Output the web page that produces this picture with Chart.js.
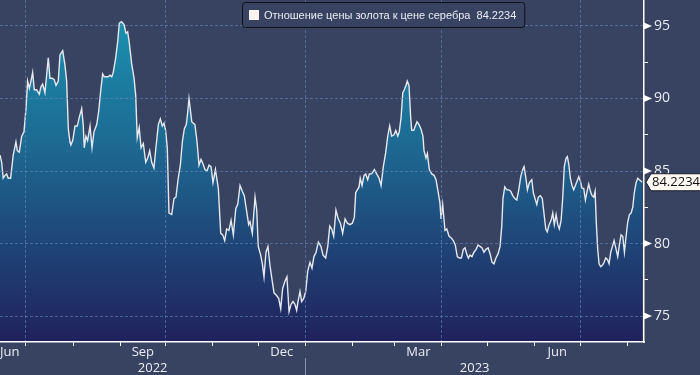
<!DOCTYPE html>
<html>
<head>
<meta charset="utf-8">
<script src="https://cdn.jsdelivr.net/npm/chart.js@4.4.0/dist/chart.umd.min.js"></script>
<style>
  html, body { margin: 0; padding: 0; background: #374361; }
  #wrap { width: 700px; height: 375px; }
</style>
</head>
<body>
<div id="wrap"><canvas id="ratioChart" width="700" height="375"></canvas></div>
<script>
const seriesName = "Отношение цены золота к цене серебра";

// days since 1 Jul 2022
const dayOffsets = [
  -17.1,-16.0,-15.0,-13.8,-12.7,-11.7,-10.1,-8.4,-6.6,-5.7,
  -4.4,-2.8,-1.3,0,1.1,2.2,3.3,4.4,5.5,7.0,
  8.8,9.9,11.0,12.5,13.6,14.7,15.8,17.3,18.6,19.8,
  21.3,22.4,24.2,25.7,26.8,27.9,29.0,29.6,30.8,32.3,
  33.8,35.1,36.7,37.7,38.4,39.5,40.6,42.2,43.5,44.8,
  46.6,47.9,49.2,50.5,51.6,54.2,55.3,56.5,57.5,59.1,
  60.4,61.5,63.0,64.6,65.9,67.0,68.1,69.6,71.2,72.3,
  73.3,74.6,75.8,77.3,78.9,80.2,81.5,82.8,84.3,85.6,
  87.2,88.5,89.8,90.9,92.0,93.1,94.2,96.0,97.5,98.8,
  100.3,101.7,103.0,104.3,105.6,106.5,107.4,108.2,109.2,110.2,
  111.3,112.7,114.0,115.3,116.6,117.9,119.2,120.6,121.9,123.2,
  124.8,126.7,128.3,129.6,130.9,132.2,133.7,135.1,136.6,138.2,
  139.5,141.0,142.5,143.8,145.4,146.7,147.6,149.1,150.9,152.0,
  153.0,154.6,155.7,156.8,158.1,159.4,160.7,162.1,163.4,165.2,
  166.5,167.8,169.1,170.6,171.9,173.3,174.6,175.9,177.2,178.3,
  179.4,180.5,181.6,182.9,184.3,185.6,187.1,188.4,189.7,191.1,
  192.6,194.3,195.7,197.4,198.8,200.1,201.4,202.7,204.2,205.7,
  207.1,208.6,210.2,211.7,213.3,215.0,216.3,217.2,218.3,219.4,
  220.2,221.4,222.7,223.8,225.1,226.2,227.7,229.5,231.0,232.6,
  233.9,235.4,237.0,238.3,239.6,240.9,242.4,243.6,244.9,245.9,
  247.1,248.2,249.2,250.3,251.2,252.3,253.4,254.1,255.4,256.5,
  257.6,258.9,260.2,261.5,262.2,263.5,264.4,265.7,267.3,268.8,
  270.1,271.6,272.7,273.4,274.5,276.0,277.2,278.7,280.0,281.5,
  282.8,284.1,285.5,286.8,288.1,289.2,290.3,291.4,292.5,293.8,
  295.1,296.5,297.8,299.1,300.4,301.7,303.0,304.4,305.7,307.0,
  308.3,309.6,311.0,312.3,313.4,314.2,315.4,316.7,318.0,319.3,
  320.6,322.0,323.3,324.6,325.9,327.2,328.1,329.2,330.3,331.6,
  333.2,334.2,335.3,336.5,337.5,338.8,340.1,341.3,342.4,343.4,
  344.6,345.9,347.0,348.0,349.2,350.3,351.3,352.5,353.6,354.6,
  355.8,356.6,357.5,358.6,359.7,360.8,361.9,363.0,364.1,365.2,
  366.3,367.4,368.5,369.6,370.7,371.8,372.9,374.0,374.9,375.7,
  376.6,377.5,378.6,379.7,380.8,381.9,383.0,384.1,385.2,386.3,
  387.4,388.5,389.8,390.9,392.0,393.1,394.2,395.3,396.4,397.5,
  398.6,399.7,400.7,401.9,403.0,404.0,405.2,405.8
];

const ratio = [
  86.1,85.6,84.5,84.7,84.8,84.5,84.5,86.1,87.0,86.4,
  86.3,87.4,87.7,89.3,91.2,90.7,91.2,91.8,90.6,90.6,
  90.3,90.8,91.0,90.4,91.6,92.8,91.4,91.4,91.3,90.9,
  91.2,93.0,93.3,92.3,91.2,87.9,87.0,86.8,87.1,88.1,
  88.1,88.7,89.3,88.2,86.6,87.4,87.1,88.1,86.6,87.7,
  88.2,89.1,90.5,91.7,91.5,91.5,91.6,91.5,91.8,92.8,
  93.9,95.2,95.3,95.1,94.5,94.6,93.8,92.4,91.4,90.2,
  87.3,88.0,86.6,86.9,85.6,85.9,86.4,85.6,85.2,86.6,
  88.2,88.6,88.1,88.3,87.8,86.6,82.1,82.0,83.1,83.2,
  84.5,85.4,87.0,87.9,88.2,89.0,90.0,89.3,88.4,88.3,
  88.2,87.0,85.4,85.8,85.5,85.1,85.0,85.4,85.3,84.2,
  85.1,83.8,80.7,80.6,80.2,81.0,80.9,81.6,80.6,82.4,
  82.7,84.0,83.6,83.3,82.2,81.3,81.5,80.7,83.2,82.3,
  79.8,79.2,78.6,77.7,79.4,79.8,78.5,77.5,76.6,76.4,
  76.2,75.5,76.9,77.4,77.7,75.3,75.8,76.0,75.8,75.4,
  76.1,76.7,76.0,76.2,76.7,78.1,78.7,78.3,79.1,79.4,
  80.1,79.8,79.2,79.0,79.8,81.2,81.0,80.5,82.3,81.7,
  81.4,80.7,81.7,81.4,81.3,81.4,81.8,83.5,83.7,83.9,
  84.5,84.0,84.7,84.8,84.4,84.8,84.8,85.1,84.8,84.5,
  84.0,85.3,86.3,87.4,88.1,87.4,87.5,87.8,87.4,87.7,
  88.7,90.4,90.6,90.9,91.2,90.9,88.7,87.8,87.8,88.1,
  88.4,88.2,87.9,87.4,86.4,85.9,86.2,85.1,84.8,84.7,
  84.4,83.5,82.8,81.7,82.7,80.9,81.0,80.5,80.4,80.2,
  79.9,79.1,79.0,79.0,79.6,79.7,79.3,79.0,79.2,79.1,
  79.4,79.6,79.9,79.8,79.7,79.4,79.6,79.7,79.3,78.7,
  78.6,79.0,79.3,79.8,81.2,83.1,83.9,83.7,83.7,83.6,
  83.3,83.1,83.0,83.7,84.6,85.1,85.3,84.6,83.7,84.2,
  84.4,83.5,83.1,82.7,83.2,83.3,83.1,82.0,81.0,80.8,
  81.3,81.6,82.1,81.3,82.0,81.3,81.0,81.6,83.2,85.3,
  85.9,86.0,85.5,84.5,84.0,83.7,84.0,84.3,84.6,84.3,
  83.8,83.8,83.0,83.6,84.1,83.6,83.3,83.2,83.6,81.4,
  79.6,78.6,78.4,78.5,78.7,79.0,78.9,78.6,79.4,79.8,
  80.2,79.7,79.1,79.9,80.6,80.5,79.4,80.5,81.5,82.0,
  82.1,82.5,83.5,84.2,84.5,84.4,84.3,84.2234
];

const yTicks = [75, 77.5, 80, 82.5, 85, 87.5, 90, 92.5, 95];
const yLabels = ["75", "", "80", "", "85", "", "90", "", "95"];

// month starts (days since 1 Jul 2022), Jun 2022 .. Aug 2023
const monthStarts = [-30, 0, 31, 62, 92, 123, 153, 184, 215, 243, 274, 304, 335, 365, 396];
const gridMonths = [0, 92, 184, 274, 365];
const monthLabels = ["Jun", "Sep", "Dec", "Mar", "Jun"];
const monthLabelFrom = [-30, 62, 153, 243, 335];
const monthLabelTo = [0, 92, 184, 274, 365];
const yearLabels = ["2022", "2023"];
const yearBreak = 184;

const bgColor = "#374361";
const textColor = "#e9ecf3";
const gridColor = "rgba(105, 135, 185, 0.6)";
const fontName = '"Open Sans", "DejaVu Sans", sans-serif';
const legendFont = '"Liberation Sans", Arial, sans-serif';

const decorPlugin = {
    id: "decor",
    beforeDraw(chart) {
        const c = chart.ctx;
        c.save();
        c.fillStyle = bgColor;
        c.fillRect(0, 0, chart.width, chart.height);
        c.restore();
    },
    afterDraw(chart) {
        const c = chart.ctx;
        const xs = chart.scales.x;
        const ys = chart.scales.y;
        const area = chart.chartArea;
        c.save();

        // arrow heads on major y ticks
        c.fillStyle = "#ffffff";
        yTicks.forEach((v, i) => {
            if (!yLabels[i]) return;
            const py = ys.getPixelForValue(v);
            c.beginPath();
            c.moveTo(area.right, py - 3.5);
            c.lineTo(area.right + 8, py);
            c.lineTo(area.right, py + 3.5);
            c.closePath();
            c.fill();
        });

        // month labels, centred in their month
        c.font = "13px " + fontName;
        c.fillStyle = textColor;
        c.textAlign = "center";
        c.textBaseline = "middle";
        monthLabels.forEach((m, i) => {
            let cx = (xs.getPixelForValue(monthLabelFrom[i]) + xs.getPixelForValue(monthLabelTo[i])) / 2;
            const w = c.measureText(m).width;
            cx = Math.max(cx, area.left + w / 2);
            c.fillText(m, cx, area.bottom + 10);
        });

        // years
        const sep = xs.getPixelForValue(yearBreak);
        const yearCenters = [(area.left + sep) / 2, (sep + area.right) / 2];
        yearLabels.forEach((t, i) => c.fillText(t, yearCenters[i], area.bottom + 26));
        c.strokeStyle = "#8a95ad";
        c.lineWidth = 1;
        c.beginPath();
        c.moveTo(Math.round(sep) + 0.5, area.bottom + 16);
        c.lineTo(Math.round(sep) + 0.5, chart.height);
        c.stroke();

        // last value tag
        const last = ratio[ratio.length - 1];
        const py = ys.getPixelForValue(last);
        c.beginPath();
        c.moveTo(area.right + 2, py);
        c.lineTo(area.right + 7, py - 8.5);
        c.lineTo(chart.width + 2, py - 8.5);
        c.lineTo(chart.width + 2, py + 8.5);
        c.lineTo(area.right + 7, py + 8.5);
        c.closePath();
        c.fillStyle = "#fffbf4";
        c.fill();
        c.strokeStyle = "#1a1c24";
        c.stroke();
        c.fillStyle = "#111111";
        c.font = "13px " + fontName;
        c.textAlign = "left";
        c.fillText(last.toFixed(4), area.right + 8, py + 0.5);

        // legend box
        c.font = "11px " + legendFont;
        const legendText = seriesName + "  " + last.toFixed(4);
        const tw = c.measureText(legendText).width;
        const bx = 242.5, by = 2.5, bh = 25;
        const bw = tw + 30;
        c.beginPath();
        c.roundRect(bx, by, bw, bh, 3);
        c.fillStyle = bgColor;
        c.fill();
        c.strokeStyle = "#0e1018";
        c.lineWidth = 1;
        c.stroke();
        c.fillStyle = "#fdf3f0";
        c.fillRect(249, 10, 10, 10);
        c.fillStyle = textColor;
        c.textAlign = "left";
        c.fillText(legendText, 264, 15.5);

        c.restore();
    }
};

const ctx = document.getElementById("ratioChart").getContext("2d");
new Chart(ctx, {
    type: "line",
    data: {
        datasets: [
            {
                label: seriesName,
                data: dayOffsets.map((d, i) => ({ x: d, y: ratio[i] })),
                borderColor: "#e6e8ee",
                borderWidth: 1.4,
                pointRadius: 0,
                tension: 0,
                fill: "start",
                backgroundColor: (context) => {
                    const area = context.chart.chartArea;
                    if (!area) return "#1e5e8d";
                    const g = context.chart.ctx.createLinearGradient(0, area.top, 0, area.bottom);
                    g.addColorStop(0, "#1a97b4");
                    g.addColorStop(0.45, "#1d6690");
                    g.addColorStop(1, "#20215c");
                    return g;
                },
            },
        ],
    },
    options: {
        responsive: false,
        devicePixelRatio: 1,
        animation: false,
        layout: { padding: 0 },
        plugins: {
            legend: { display: false },
            tooltip: { enabled: false },
        },
        scales: {
            x: {
                type: "linear",
                min: -17.1,
                max: 407.1,
                afterBuildTicks: (s) => { s.ticks = monthStarts.map((v) => ({ value: v })); },
                afterFit: (s) => { s.height = 33; s.paddingLeft = 0; s.paddingRight = 0; },
                ticks: { display: false, autoSkip: false },
                grid: {
                    z: 1,
                    color: (c) => (c.tick && gridMonths.includes(c.tick.value) ? gridColor : "rgba(0,0,0,0)"),
                    tickColor: "#ffffff",
                    tickLength: 4,
                    tickBorderDash: [],
                },
                border: { display: true, color: "#ffffff", width: 1.5, dash: [3, 2], z: 1 },
            },
            y: {
                position: "right",
                min: 73.21,
                max: 96.79,
                afterBuildTicks: (s) => { s.ticks = yTicks.map((v) => ({ value: v })); },
                afterFit: (s) => { s.width = 56; s.paddingTop = 0; s.paddingBottom = 0; },
                ticks: {
                    autoSkip: false,
                    padding: 6,
                    color: textColor,
                    font: { family: fontName, size: 14 },
                    callback: (v, i) => yLabels[i],
                },
                grid: {
                    z: 1,
                    color: (c) => (c.tick && yLabels[yTicks.indexOf(c.tick.value)] ? gridColor : "rgba(0,0,0,0)"),
                    tickColor: "#ffffff",
                    tickLength: 4,
                    tickBorderDash: [],
                },
                border: { display: true, color: "#ffffff", width: 1.5, dash: [3, 2], z: 1 },
            },
        },
    },
    plugins: [decorPlugin],
});
</script>
</body>
</html>
